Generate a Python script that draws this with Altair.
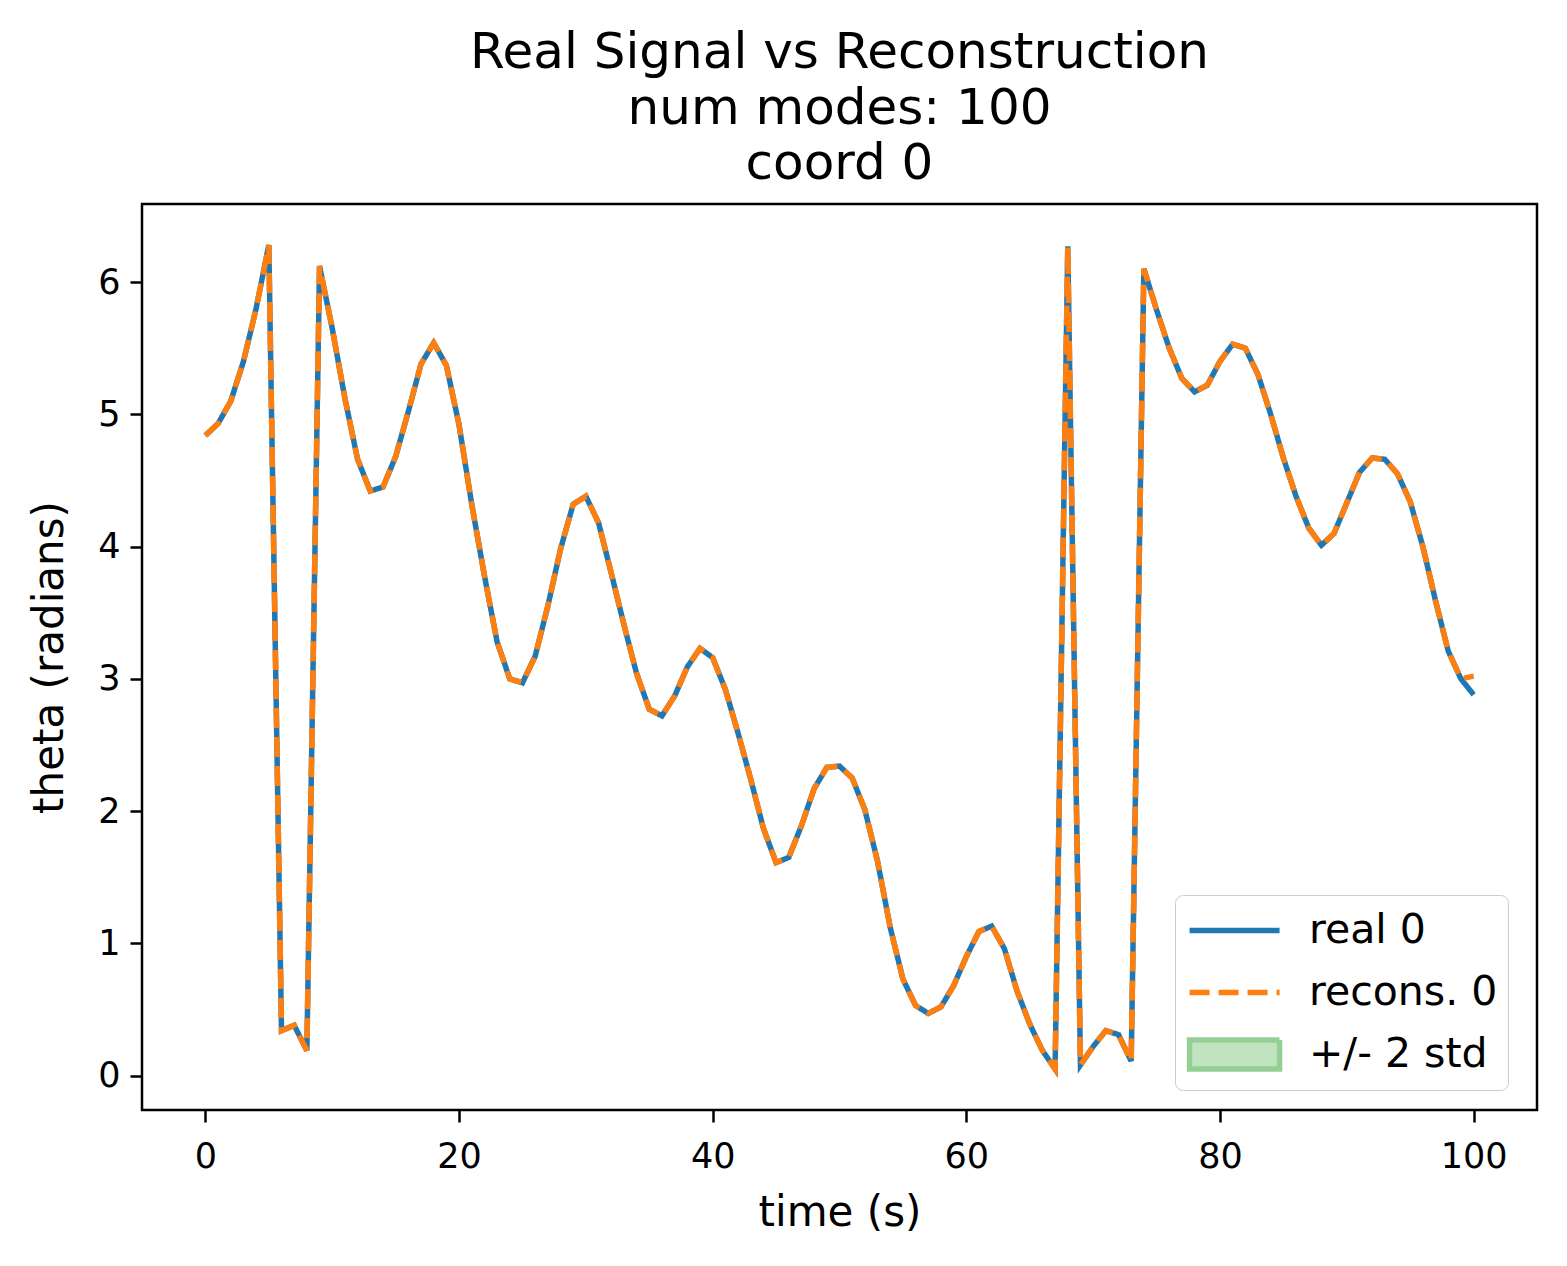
import altair as alt
import pandas as pd

t_vals = list(range(101))

real_vals = [
    4.84, 4.93, 5.10, 5.40, 5.80, 6.28, 0.34, 0.38, 0.19, 6.12,
    5.65, 5.12, 4.66, 4.42, 4.45, 4.68, 5.02, 5.38, 5.54, 5.37,
    4.92, 4.32, 3.78, 3.28, 3.00, 2.97, 3.17, 3.55, 3.98, 4.32,
    4.38, 4.18, 3.80, 3.41, 3.04, 2.77, 2.72, 2.87, 3.09, 3.23,
    3.16, 2.92, 2.59, 2.24, 1.87, 1.61, 1.65, 1.89, 2.17, 2.33,
    2.34, 2.25, 2.01, 1.62, 1.12, 0.73, 0.53, 0.47, 0.52, 0.68,
    0.90, 1.09, 1.13, 0.96, 0.64, 0.39, 0.19, 0.05, 6.27, 0.08,
    0.22, 0.34, 0.31, 0.11, 6.10, 5.79, 5.50, 5.27, 5.17, 5.22,
    5.40, 5.53, 5.50, 5.30, 5.00, 4.67, 4.38, 4.14, 4.01, 4.10,
    4.33, 4.56, 4.67, 4.66, 4.55, 4.34, 4.00, 3.59, 3.21, 3.00,
    2.88,
]

recon_vals = [
    4.84, 4.93, 5.10, 5.40, 5.80, 6.28, 0.34, 0.38, 0.19, 6.12,
    5.65, 5.12, 4.66, 4.42, 4.45, 4.68, 5.02, 5.38, 5.54, 5.37,
    4.92, 4.32, 3.78, 3.28, 3.00, 2.97, 3.17, 3.55, 3.98, 4.32,
    4.38, 4.18, 3.80, 3.41, 3.04, 2.77, 2.72, 2.87, 3.09, 3.23,
    3.16, 2.92, 2.59, 2.24, 1.87, 1.61, 1.65, 1.89, 2.17, 2.33,
    2.34, 2.25, 2.01, 1.62, 1.12, 0.73, 0.53, 0.47, 0.52, 0.68,
    0.90, 1.09, 1.13, 0.96, 0.64, 0.39, 0.19, 0.05, 6.27, 0.08,
    0.22, 0.34, 0.31, 0.11, 6.10, 5.79, 5.50, 5.27, 5.17, 5.22,
    5.40, 5.53, 5.50, 5.30, 5.00, 4.67, 4.38, 4.14, 4.01, 4.10,
    4.33, 4.56, 4.67, 4.66, 4.55, 4.34, 4.00, 3.59, 3.21, 3.00,
    3.02,
]

std_vals = [
    0.008, 0.008, 0.008, 0.008, 0.008, 0.008, 0.008, 0.008, 0.008, 0.008,
    0.008, 0.008, 0.008, 0.008, 0.008, 0.008, 0.008, 0.008, 0.008, 0.008,
    0.008, 0.008, 0.008, 0.008, 0.008, 0.008, 0.008, 0.008, 0.008, 0.008,
    0.008, 0.008, 0.008, 0.008, 0.008, 0.008, 0.008, 0.008, 0.008, 0.008,
    0.008, 0.008, 0.008, 0.008, 0.008, 0.008, 0.008, 0.008, 0.008, 0.008,
    0.008, 0.008, 0.008, 0.008, 0.008, 0.008, 0.008, 0.008, 0.008, 0.008,
    0.008, 0.008, 0.008, 0.008, 0.008, 0.008, 0.008, 0.008, 0.008, 0.008,
    0.008, 0.008, 0.008, 0.008, 0.008, 0.008, 0.008, 0.008, 0.008, 0.008,
    0.008, 0.008, 0.008, 0.008, 0.008, 0.008, 0.008, 0.008, 0.008, 0.008,
    0.008, 0.008, 0.008, 0.008, 0.008, 0.008, 0.008, 0.008, 0.008, 0.008,
    0.008,
]

series_names = ["real 0", "recons. 0", "+/- 2 std"]
stroke_colors = ["#1f77b4", "#ff7f0e", "#96cf96"]
fill_colors = ["transparent", "transparent", "#c0e3c0"]
dash_styles = [[1, 0], [20, 9], [1, 0]]
legend_shapes = ["M-0.93,0H3.07", "M-0.93,0H3.07", "M-0.93,-0.64H3.07V0.64H-0.93Z"]
x_ticks = [0, 20, 40, 60, 80, 100]
y_ticks = [0, 1, 2, 3, 4, 5, 6]
title_lines = ["Real Signal vs Reconstruction", "num modes: 100", "coord 0"]
x_title = "time (s)"
y_title = "theta (radians)"

lines_df = pd.DataFrame({
    "t": t_vals + t_vals,
    "value": real_vals + recon_vals,
    "series": ["real 0"] * len(t_vals) + ["recons. 0"] * len(t_vals),
})
band_df = pd.DataFrame({
    "t": t_vals,
    "lo": [r - 2 * s for r, s in zip(recon_vals, std_vals)],
    "hi": [r + 2 * s for r, s in zip(recon_vals, std_vals)],
    "series": "+/- 2 std",
})

FONT = "DejaVu Sans"


def make_legend():
    return alt.Legend(
        title=None,
        orient="none",
        legendX=1033,
        legendY=691,
        values=series_names,
        padding=10,
        cornerRadius=8,
        strokeColor="#cccccc",
        fillColor="white",
        labelFont=FONT,
        labelFontSize=41,
        labelColor="black",
        labelLimit=400,
        labelOffset=73,
        rowPadding=16,
        symbolSize=2025,
        symbolStrokeWidth=5.5,
        symbolOpacity=1,
    )


x_enc = alt.X(
    "t:Q",
    scale=alt.Scale(domain=[-5, 105], nice=False, zero=False),
    axis=alt.Axis(values=x_ticks, title=x_title, format="d"),
)
y_scale = alt.Scale(domain=[-0.26, 6.59], nice=False, zero=False)

band = alt.Chart(band_df).mark_area().encode(
    x=x_enc,
    y=alt.Y("lo:Q", scale=y_scale, axis=alt.Axis(values=y_ticks, title=y_title, format="d")),
    y2="hi:Q",
    fill=alt.Fill("series:N", scale=alt.Scale(domain=series_names, range=fill_colors),
                  legend=make_legend()),
)

lines = alt.Chart(lines_df).mark_line(strokeWidth=5.5).encode(
    x=x_enc,
    y=alt.Y("value:Q", scale=y_scale),
    color=alt.Color("series:N", scale=alt.Scale(domain=series_names, range=stroke_colors),
                    legend=make_legend()),
    strokeDash=alt.StrokeDash("series:N", scale=alt.Scale(domain=series_names, range=dash_styles),
                              legend=make_legend()),
)

shapes = alt.Chart(band_df).transform_filter("datum.t < -100").mark_point(filled=False).encode(
    x=x_enc,
    y=alt.Y("lo:Q", scale=y_scale),
    shape=alt.Shape("series:N", scale=alt.Scale(domain=series_names, range=legend_shapes),
                    legend=make_legend()),
)

chart = alt.layer(band, lines, shapes).properties(
    width=1395,
    height=906,
    title=alt.TitleParams(
        text=title_lines,
        font=FONT,
        fontSize=50,
        fontWeight="normal",
        color="black",
        lineHeight=55.5,
        anchor="middle",
        offset=15,
    ),
    padding={"left": 134, "top": 196, "right": 22, "bottom": 140},
    autosize=alt.AutoSizeParams(type="none"),
).configure(
    font=FONT,
).configure_view(
    stroke="black",
    strokeWidth=2.5,
).configure_axis(
    grid=False,
    domain=False,
    labelFont=FONT,
    labelFontSize=35,
    labelColor="black",
    tickColor="black",
    tickSize=12,
    tickWidth=2.5,
    titleFont=FONT,
    titleFontSize=42,
    titleFontWeight="normal",
    titleColor="black",
).configure_axisX(
    labelPadding=17,
    titlePadding=18,
).configure_axisY(
    titlePadding=26,
    labelPadding=10,
)

chart.save("out.html", embed_options={"renderer": "svg", "actions": False})
